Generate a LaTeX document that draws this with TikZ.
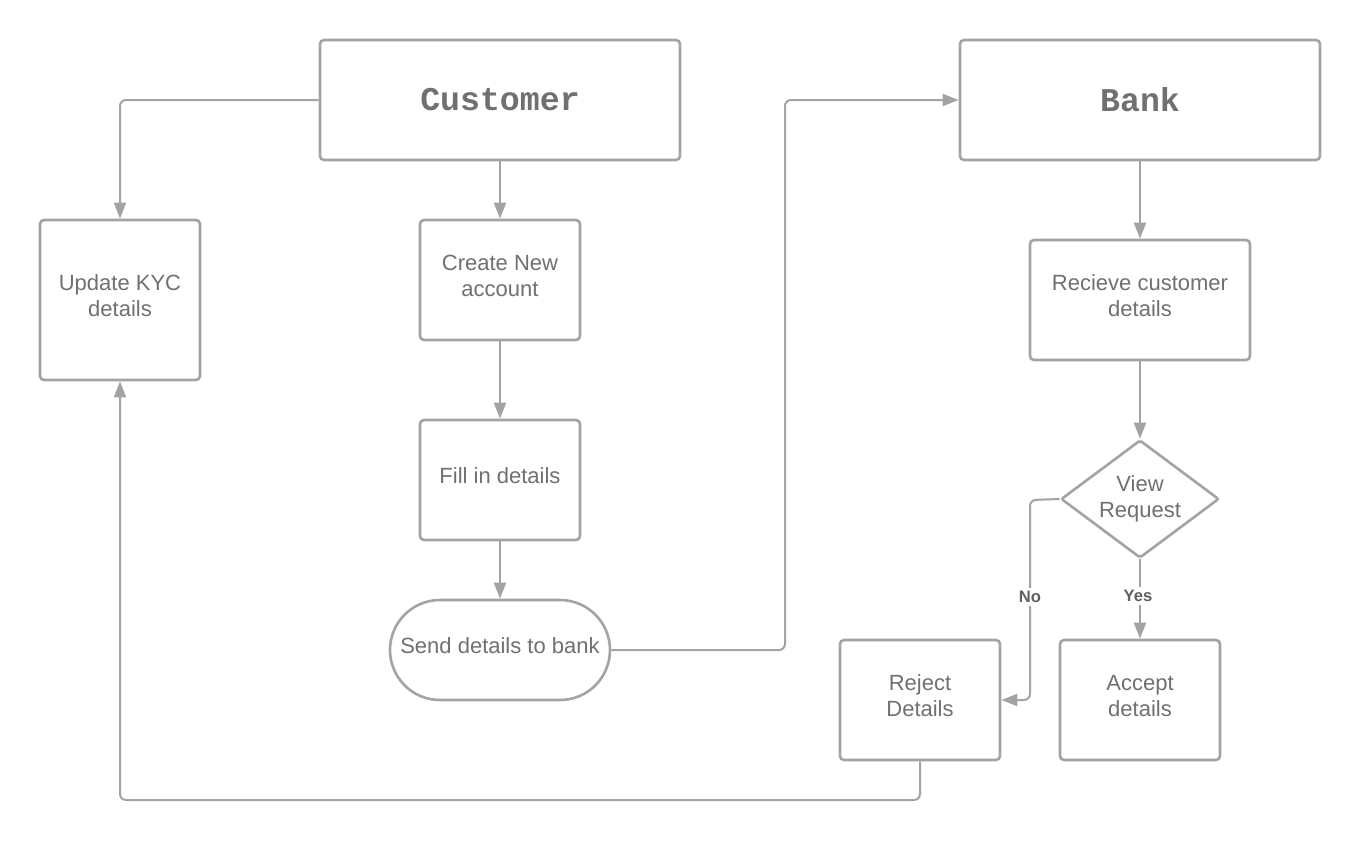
\documentclass[tikz,border=0pt]{standalone}
\usepackage{fontspec}
\setmainfont{Liberation Sans}
\newfontfamily\titlefont{Liberation Mono}
\usetikzlibrary{arrows.meta,shapes.geometric}
\definecolor{linegray}{HTML}{A3A3A3}
\definecolor{textgray}{HTML}{707070}

\begin{document}
\begin{tikzpicture}[x=0.5pt,y=-0.5pt,
		base/.style={draw=linegray,line width=1.3pt,rounded corners=2pt,fill=white,
			text=textgray,align=center,inner sep=0pt,
			font=\fontsize{11}{13}\selectfont},
		box/.style={base,text depth=4pt},
		titlebox/.style={base,minimum width=180pt,minimum height=60pt,
			font=\titlefont\bfseries\fontsize{16.6}{18}\selectfont},
		stepbox/.style={box,minimum width=80pt,minimum height=60pt},
		flow/.style={draw=linegray,line width=1pt,rounded corners=3pt,
			-{Triangle[length=8pt,width=6pt]}},
		answer/.style={fill=white,text=textgray!85!black,inner sep=1.5pt,
			font=\bfseries\fontsize{8.3}{9}\selectfont}]
		\useasboundingbox (0,0) rectangle (1360,842);
		
		% the two actors
		\node[titlebox] (cust) at (500,100) {Customer};
		\node[titlebox] (bank) at (1140,100) {Bank};
		
		% customer side
		\node[stepbox,minimum height=80pt] (kyc) at (120,300) {Update KYC\\details};
		\node[stepbox] (create) at (500,280) {Create New\\account};
		\node[stepbox] (fill) at (500,480) {Fill in details};
		\node[box,minimum width=110pt,minimum height=50pt,rounded corners=25pt] (send) at (500,650) {Send details to bank};
		
		% bank side
		\node[box,minimum width=110pt,minimum height=60pt] (recv) at (1140,300) {Recieve customer\\details};
		\node[base,shape=diamond,inner sep=-6pt,rounded corners=1pt,minimum width=79pt,minimum height=59pt] (view) at (1140,499) {View\\Request};
		\node[stepbox] (reject) at (920,700) {Reject\\Details};
		\node[stepbox] (accept) at (1140,700) {Accept\\details};
		
		% bend points of the long connectors
		\coordinate (jog) at (785,650);
		\coordinate (nobend) at (1030,500);
		\coordinate (back) at (920,800);
		
		% straight steps down each column
		\foreach \from/\to in {cust/create,create/fill,fill/send,bank/recv,recv/view,view/accept} {
			\draw[flow] (\from) -- (\to);
		}
		
		% elbow connectors
		\draw[flow] (cust.west) -| (kyc.north);
		\draw[flow] (send.east) -- (jog) |- (bank.west);
		\draw[flow] (view.west) -- (nobend) |- (reject.east);
		\draw[flow] (reject.south) -- (back) -| (kyc.south);
		
		% branch labels
		\node[answer] (no) at (1030,597) {No};
		\node[answer] (yes) at (1138,596) {Yes};
\end{tikzpicture}
\end{document}
